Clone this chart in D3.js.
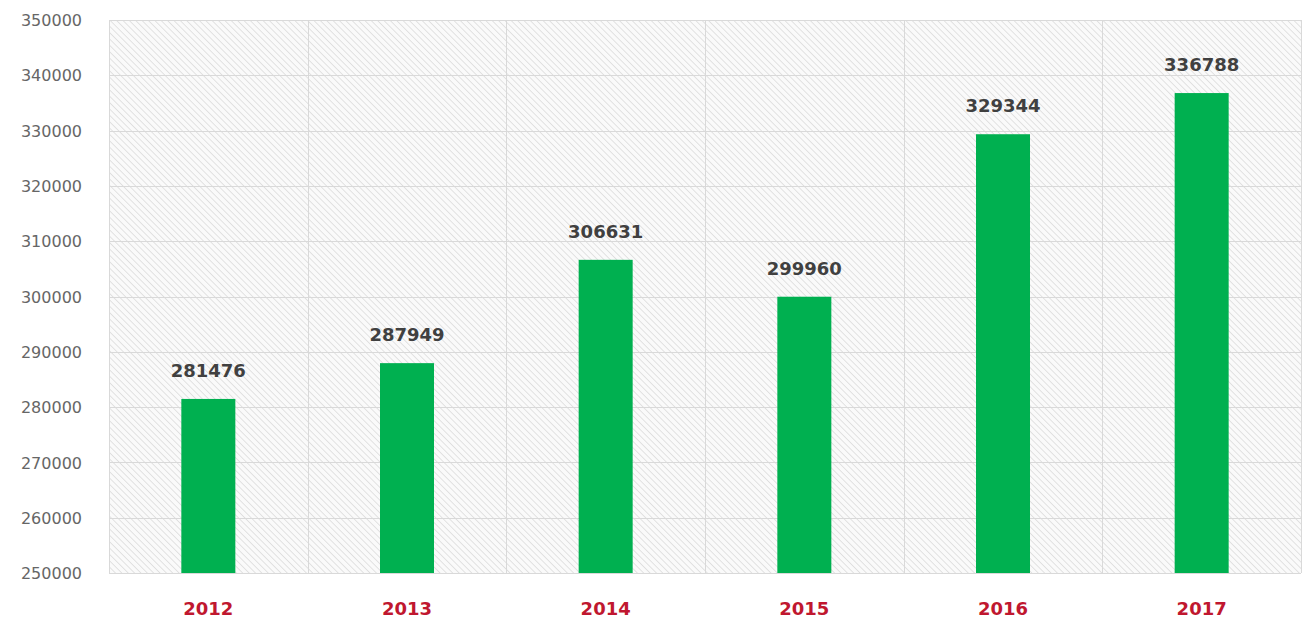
<!DOCTYPE html>
<html><head><meta charset="utf-8">
<script src="https://cdn.jsdelivr.net/npm/d3@7"></script>
<style>body{margin:0;background:#fff;}svg{display:block;}</style>
</head><body>
<svg id="chart" width="1305" height="621"></svg>
<script>
const categories = ["2012","2013","2014","2015","2016","2017"];
const values = [281476, 287949, 306631, 299960, 329344, 336788];
const yTicks = [250000,260000,270000,280000,290000,300000,310000,320000,330000,340000,350000];

const W = 1305, H = 621;
const m = {left:109, right:4, top:20, bottom:48};
const svg = d3.select("#chart");
const defs = svg.append("defs");
const pat = defs.append("pattern").attr("id","hatch").attr("patternUnits","userSpaceOnUse")
  .attr("width",4.5).attr("height",4.5).attr("patternTransform","rotate(-45)");
pat.append("rect").attr("width",4.5).attr("height",4.5).attr("fill","#fafafa");
pat.append("line").attr("x1",0).attr("y1",0).attr("x2",0).attr("y2",4.5)
  .attr("stroke","#d2d2d2").attr("stroke-width",1.2);

const x = d3.scaleBand().domain(categories).range([m.left, W-m.right]).paddingInner(0).paddingOuter(0);
const y = d3.scaleLinear().domain([250000,350000]).range([H-m.bottom, m.top]);

svg.append("rect").attr("x",m.left).attr("y",m.top).attr("width",W-m.right-m.left).attr("height",H-m.bottom-m.top)
  .attr("fill","url(#hatch)");

// horizontal gridlines
svg.append("g").selectAll("line").data(yTicks).join("line")
  .attr("x1",m.left).attr("x2",W-m.right).attr("y1",d=>Math.round(y(d))+0.5).attr("y2",d=>Math.round(y(d))+0.5)
  .attr("stroke","#d9d9d9").attr("stroke-width",1);
// vertical gridlines
const vb = categories.map(c=>x(c)).concat([W-m.right]);
svg.append("g").selectAll("line").data(vb).join("line")
  .attr("x1",d=>Math.round(d)+0.5).attr("x2",d=>Math.round(d)+0.5).attr("y1",m.top).attr("y2",H-m.bottom)
  .attr("stroke","#d9d9d9").attr("stroke-width",1);

// y axis
const yAxis = d3.axisLeft(y).tickValues(yTicks).tickFormat(d3.format("d")).tickSize(0).tickPadding(0);
const ga = svg.append("g").attr("transform",`translate(${m.left-27},0)`).call(yAxis);
ga.select(".domain").remove();
ga.selectAll("text").attr("font-family","Tahoma, 'DejaVu Sans', sans-serif").attr("font-size",16).attr("fill","#666")
  .attr("font-weight","normal").attr("dy","0.35em");

// x axis
const xAxis = d3.axisBottom(x).tickSize(0).tickPadding(0);
const gx = svg.append("g").attr("transform",`translate(0,${H-m.bottom+36})`).call(xAxis);
gx.select(".domain").remove();
gx.selectAll("text").attr("font-family","'DejaVu Sans', sans-serif").attr("font-size",18).attr("font-weight","bold")
  .attr("fill","#c0172f").attr("dy","0.35em");

const bw = 54;
svg.append("g").selectAll("rect").data(values).join("rect")
  .attr("x",(d,i)=>x(categories[i])+x.bandwidth()/2-bw/2)
  .attr("width",bw)
  .attr("y",d=>y(d))
  .attr("height",d=>y(250000)-y(d))
  .attr("fill","#00b050");

svg.append("g").selectAll("text").data(values).join("text")
  .attr("x",(d,i)=>x(categories[i])+x.bandwidth()/2)
  .attr("y",d=>y(d)-22)
  .attr("text-anchor","middle")
  .attr("font-family","'DejaVu Sans', sans-serif").attr("font-size",18).attr("font-weight","bold")
  .attr("fill","#404040")
  .text(d=>d);
</script>
</body></html>
